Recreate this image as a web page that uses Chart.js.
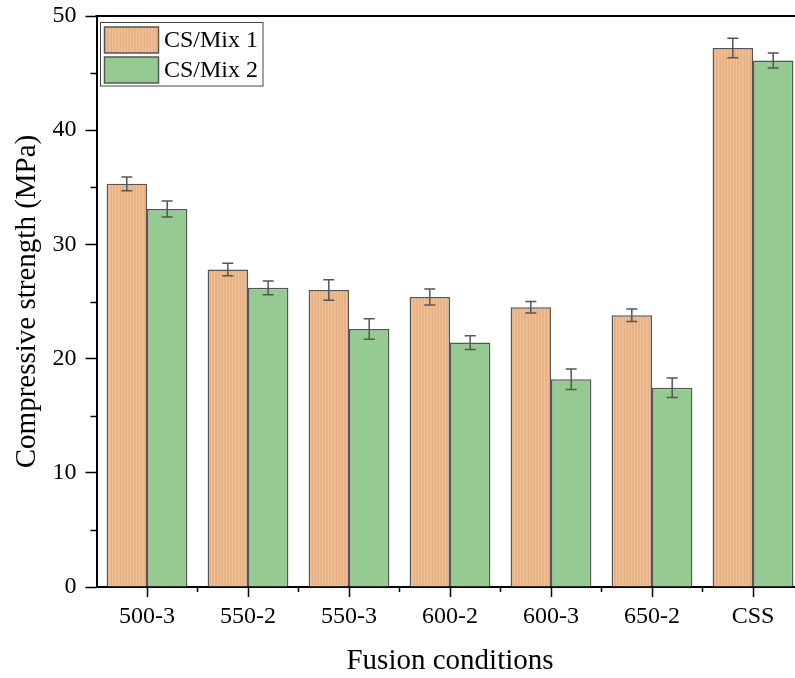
<!DOCTYPE html>
<html>
<head>
<meta charset="utf-8">
<script src="https://cdn.jsdelivr.net/npm/chart.js@4/dist/chart.umd.min.js"></script>
<style>
  html, body { margin: 0; padding: 0; background: #fff; overflow: hidden; }
  #wrap { width: 810px; height: 678px; }
</style>
</head>
<body>
<div id="wrap"><canvas id="c" width="810" height="678"></canvas></div>
<script>
// Fusion conditions (temperature-time) and compressive strength, MPa
const categories = ['500-3', '550-2', '550-3', '600-2', '600-3', '650-2', 'CSS'];
const mix1Values = [35.3, 27.8, 26.0, 25.4, 24.5, 23.8, 47.2];
const mix1Errors = [0.6, 0.55, 0.9, 0.7, 0.5, 0.55, 0.85];
const mix2Values = [33.1, 26.2, 22.6, 21.4, 18.2, 17.45, 46.1];
const mix2Errors = [0.7, 0.6, 0.9, 0.6, 0.9, 0.85, 0.65];
const yTicks = [0, 10, 20, 30, 40, 50];

const SERIF = '"Liberation Serif", "Times New Roman", serif';

// Vertical pin-stripe fill for the first series
function stripePattern() {
  const p = document.createElement('canvas');
  p.width = 3; p.height = 4;
  const g = p.getContext('2d');
  const cols = ['#E6B084', '#EEC198', '#E9B589'];
  cols.forEach((c, i) => { g.fillStyle = c; g.fillRect(i, 0, 1, 4); });
  return g.createPattern(p, 'repeat');
}

const errorBars = {
  id: 'errorBars',
  afterDatasetsDraw(chart) {
    const ctx = chart.ctx;
    const y = chart.scales.y;
    ctx.save();
    ctx.strokeStyle = '#555';
    ctx.lineWidth = 1.5;
    chart.data.datasets.forEach((ds, di) => {
      const meta = chart.getDatasetMeta(di);
      meta.data.forEach((bar, i) => {
        const v = ds.data[i], e = ds.errors[i];
        const top = y.getPixelForValue(v + e);
        const bot = y.getPixelForValue(v - e);
        const x = bar.x;
        ctx.beginPath();
        ctx.moveTo(x, top); ctx.lineTo(x, bot);
        ctx.moveTo(x - 5.5, top); ctx.lineTo(x + 5.5, top);
        ctx.moveTo(x - 5.5, bot); ctx.lineTo(x + 5.5, bot);
        ctx.stroke();
      });
    });
    ctx.restore();
  }
};

const frameAndMinor = {
  id: 'frameAndMinor',
  afterDraw(chart) {
    const ctx = chart.ctx;
    const { left, right, top, bottom } = chart.chartArea;
    const x = chart.scales.x, y = chart.scales.y;
    ctx.save();
    ctx.strokeStyle = '#000';
    ctx.lineWidth = 2;
    ctx.beginPath();
    ctx.moveTo(left - 1, top); ctx.lineTo(right, top);
    ctx.stroke();
    // minor ticks
    ctx.lineWidth = 1.5;
    ctx.beginPath();
    for (let v = 5; v < 50; v += 10) {
      const py = Math.round(y.getPixelForValue(v)) + 0.5;
      ctx.moveTo(left - 6, py); ctx.lineTo(left, py);
    }
    for (let i = 0; i < categories.length - 1; i++) {
      const px = (x.getPixelForValue(i) + x.getPixelForValue(i + 1)) / 2;
      ctx.moveTo(px, bottom); ctx.lineTo(px, bottom + 5);
    }
    ctx.stroke();
    ctx.restore();
  }
};

const boxLegend = {
  id: 'boxLegend',
  afterDraw(chart) {
    const ctx = chart.ctx;
    ctx.save();
    ctx.fillStyle = '#fff';
    ctx.fillRect(100.5, 22.5, 162.5, 63.5);
    ctx.strokeStyle = '#444';
    ctx.lineWidth = 1;
    ctx.strokeRect(100.5, 22.5, 162.5, 63.5);
    chart.data.datasets.forEach((ds, i) => {
      const sy = 27 + i * 30;
      ctx.fillStyle = ds.backgroundColor;
      ctx.fillRect(104.5, sy, 54, 26);
      ctx.strokeStyle = '#555';
      ctx.lineWidth = 1.5;
      ctx.strokeRect(104.5, sy, 54, 26);
      ctx.fillStyle = '#000';
      ctx.font = '24px ' + SERIF;
      ctx.textBaseline = 'middle';
      ctx.textAlign = 'left';
      ctx.fillText(ds.label, 164, sy + 14);
    });
    ctx.restore();
  }
};

new Chart(document.getElementById('c'), {
  type: 'bar',
  data: {
    labels: categories,
    datasets: [
      {
        label: 'CS/Mix 1',
        data: mix1Values,
        errors: mix1Errors,
        backgroundColor: stripePattern(),
        borderColor: '#555',
        borderWidth: 1.5,
        categoryPercentage: 0.8,
        barPercentage: 1.0
      },
      {
        label: 'CS/Mix 2',
        data: mix2Values,
        errors: mix2Errors,
        backgroundColor: '#96CA93',
        borderColor: '#555',
        borderWidth: 1.5,
        categoryPercentage: 0.8,
        barPercentage: 1.0
      }
    ]
  },
  options: {
    responsive: false,
    animation: false,
    layout: { padding: { left: 0, right: 6.5, top: 16, bottom: 0 } },
    plugins: {
      legend: { display: false },
      tooltip: { enabled: false }
    },
    scales: {
      x: {
        offset: true,
        grid: { offset: false, drawOnChartArea: false, drawTicks: true, tickLength: 10, tickColor: '#000', tickWidth: 1.5 },
        border: { display: true, color: '#000', width: 2 },
        ticks: { color: '#000', font: { family: SERIF, size: 24 }, padding: 5, maxRotation: 0 },
        title: {
          display: true, text: 'Fusion conditions', color: '#000',
          font: { family: SERIF, size: 29, lineHeight: 1.1 }, padding: { top: 0, bottom: 1 }
        },
        afterFit(scale) { scale.height = 91; scale.paddingLeft = 0; scale.paddingRight = 0; }
      },
      y: {
        min: 0, max: 50,
        afterBuildTicks(scale) { scale.ticks = yTicks.map(v => ({ value: v })); },
        grid: { drawOnChartArea: false, drawTicks: true, tickLength: 11, tickColor: '#000', tickWidth: 1.5 },
        border: { display: true, color: '#000', width: 2 },
        ticks: { color: '#000', font: { family: SERIF, size: 24 }, padding: 9 },
        title: {
          display: true, text: 'Compressive strength (MPa)', color: '#000',
          font: { family: SERIF, size: 29, lineHeight: 1.2 }, padding: { top: 10, bottom: 0 }
        },
        afterFit(scale) { scale.width = 96.5; scale.paddingTop = 0; scale.paddingBottom = 0; }
      }
    }
  },
  plugins: [errorBars, frameAndMinor, boxLegend]
});
</script>
</body>
</html>
